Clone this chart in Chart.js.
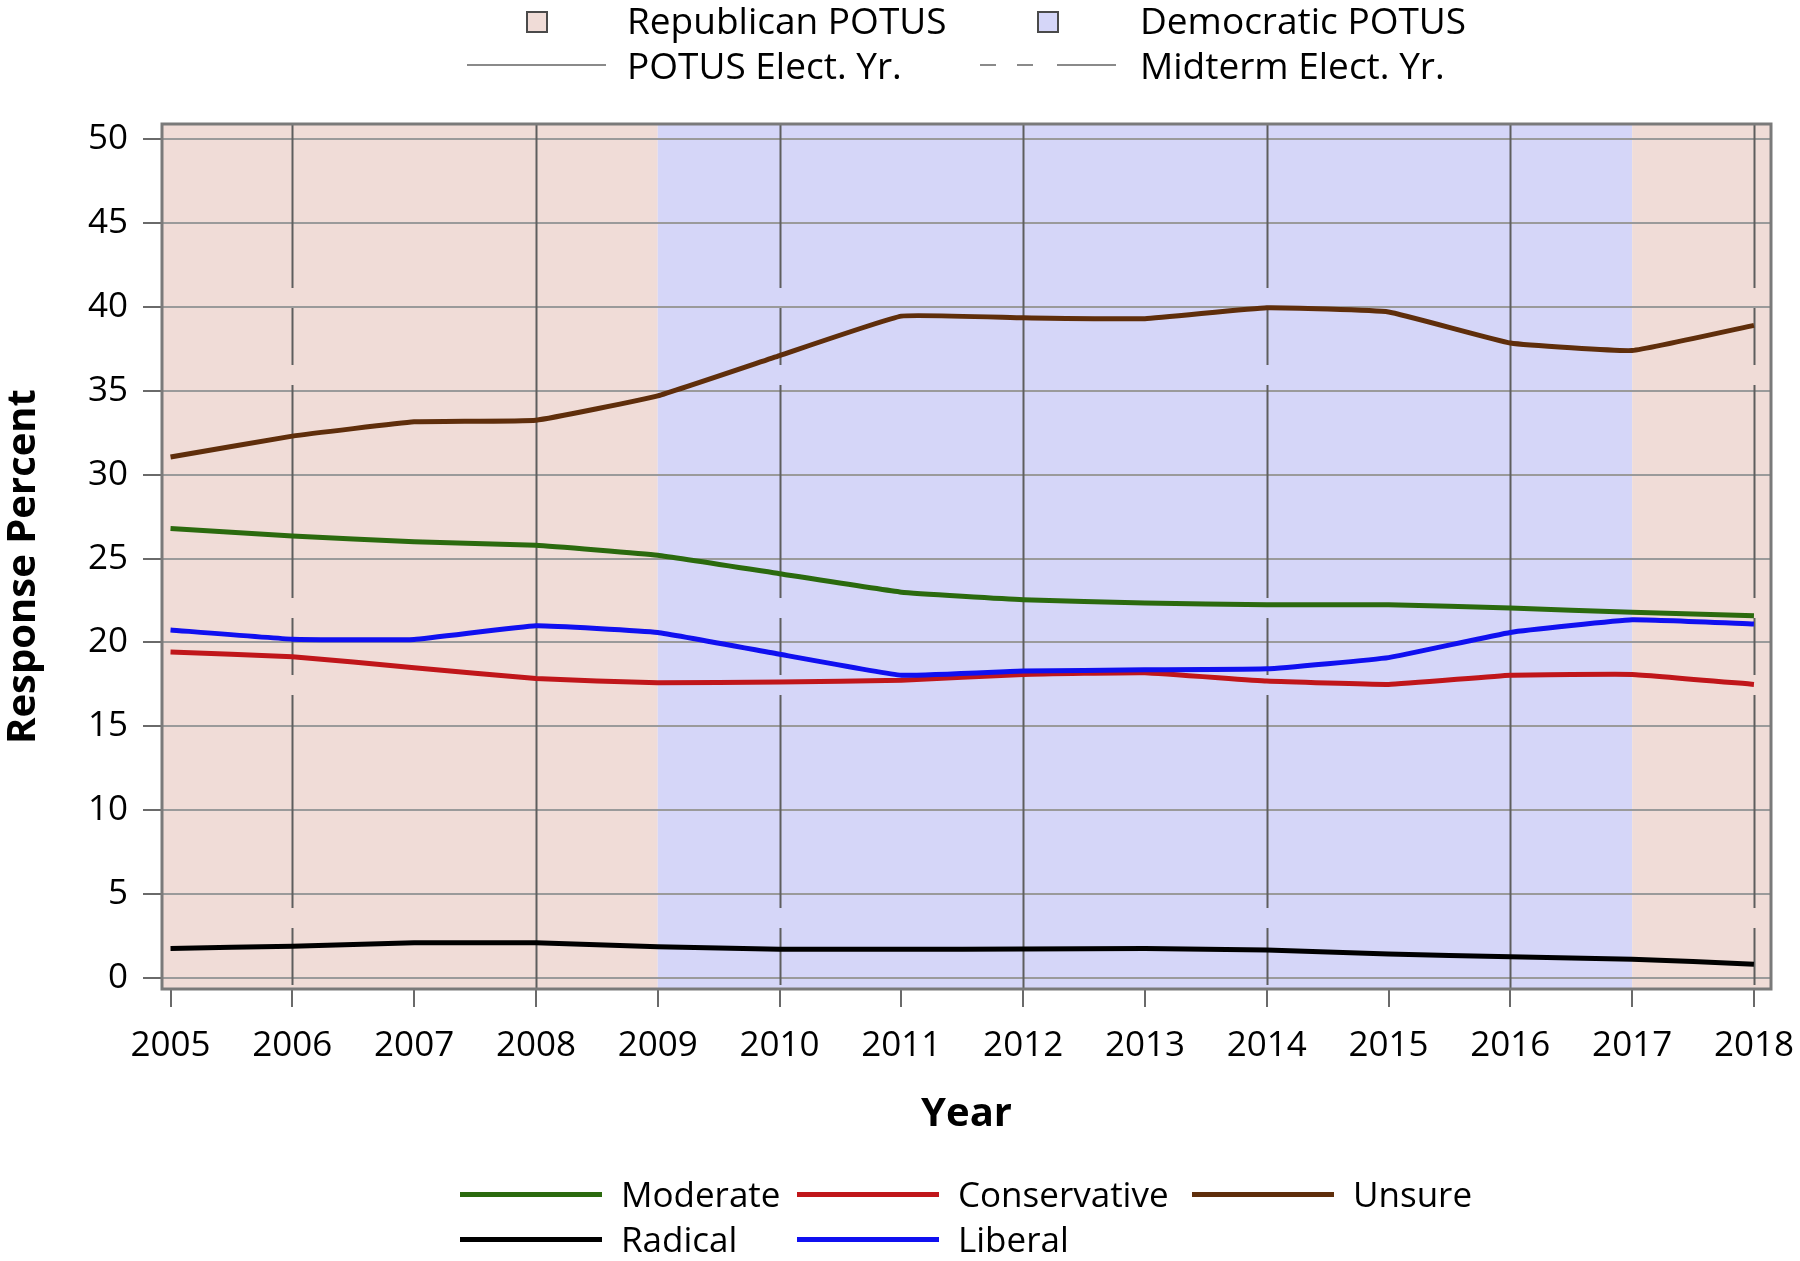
<!DOCTYPE html>
<html>
<head>
<meta charset="utf-8">
<script src="https://cdn.jsdelivr.net/npm/chart.js@4/dist/chart.umd.min.js"></script>
<style>
  body { margin: 0; background: #fff; }
  #wrap { position: relative; width: 1800px; height: 1261px; font-family: "Open Sans", sans-serif; color: #000; }
  canvas { position: absolute; left: 0; top: 0; }
  .lg { position: absolute; font-size: 35px; line-height: 40px; white-space: nowrap; }
  .lg.top { font-size: 37px; }
  .sq { position: absolute; width: 18px; height: 18px; border: 2px solid #4a4a4a; }
  .ln { position: absolute; height: 5px; }
  .gl { position: absolute; height: 2px; background: #8a8a8a; }
</style>
</head>
<body>
<div id="wrap">
  <canvas id="chart" width="1800" height="1261"></canvas>

  <!-- top legend -->
  <div class="sq" style="left:526px;top:11px;background:#f0dcd7"></div>
  <div class="lg top" style="left:627px;top:0px">Republican POTUS</div>
  <div class="sq" style="left:1037px;top:11px;background:#d5d6f8"></div>
  <div class="lg top" style="left:1140px;top:0px">Democratic POTUS</div>

  <div class="gl" style="left:467px;top:64px;width:139px"></div>
  <div class="lg top" style="left:627px;top:45px">POTUS Elect. Yr.</div>
  <div class="gl" style="left:980px;top:64px;width:16px"></div>
  <div class="gl" style="left:1017px;top:64px;width:16px"></div>
  <div class="gl" style="left:1057px;top:64px;width:59px"></div>
  <div class="lg top" style="left:1140px;top:45px">Midterm Elect. Yr.</div>

  <!-- bottom legend -->
  <div class="ln" style="left:460px;top:1192px;width:142px;background:#2b6a0e"></div>
  <div class="lg" style="left:621px;top:1174px">Moderate</div>
  <div class="ln" style="left:797px;top:1192px;width:142px;background:#c0161a"></div>
  <div class="lg" style="left:958px;top:1174px">Conservative</div>
  <div class="ln" style="left:1192px;top:1192px;width:142px;background:#5f2e0b"></div>
  <div class="lg" style="left:1353px;top:1174px">Unsure</div>
  <div class="ln" style="left:460px;top:1237px;width:142px;background:#000"></div>
  <div class="lg" style="left:621px;top:1219px">Radical</div>
  <div class="ln" style="left:797px;top:1237px;width:142px;background:#1010f0"></div>
  <div class="lg" style="left:958px;top:1219px">Liberal</div>
</div>

<script>
// survey years
const years = [2005, 2006, 2007, 2008, 2009, 2010, 2011, 2012, 2013, 2014, 2015, 2016, 2017, 2018];

// response percent per group
const moderate     = [26.8, 26.35, 26.0, 25.8, 25.2, 24.1, 23.0, 22.55, 22.35, 22.25, 22.25, 22.05, 21.8, 21.6];
const conservative = [19.43, 19.15, 18.5, 17.85, 17.6, 17.65, 17.75, 18.1, 18.2, 17.7, 17.5, 18.05, 18.1, 17.5];
const unsure       = [31.05, 32.3, 33.15, 33.25, 34.7, 37.1, 39.45, 39.35, 39.3, 39.95, 39.7, 37.85, 37.4, 38.9];
const radical      = [1.77, 1.9, 2.1, 2.1, 1.87, 1.72, 1.72, 1.73, 1.77, 1.67, 1.43, 1.27, 1.13, 0.83];
const liberal      = [20.75, 20.2, 20.18, 21.0, 20.6, 19.3, 18.05, 18.3, 18.37, 18.43, 19.1, 20.6, 21.35, 21.1];

// presidential terms (start years) and party
const termStarts = [2001, 2009, 2017, 2021];
const termParty = ['R', 'D', 'R'];

const potusYears = [2008, 2012, 2016];
const midtermYears = [2006, 2010, 2014, 2018];

const yTicks = [0, 5, 10, 15, 20, 25, 30, 35, 40, 45, 50];

const partyColor = { R: '#f0dcd7', D: '#d5d6f8' };

function pts(vals) {
  return years.map((yr, i) => ({ x: yr, y: vals[i] }));
}

// shading for presidential terms, drawn under grid
const termShading = {
  id: 'termShading',
  beforeDraw(chart) {
    const { ctx, chartArea: a, scales: { x } } = chart;
    ctx.save();
    for (let i = 0; i < termParty.length; i++) {
      let x0 = Math.max(x.getPixelForValue(termStarts[i]), a.left);
      let x1 = Math.min(x.getPixelForValue(termStarts[i + 1]), a.right);
      if (x1 <= x0) continue;
      ctx.fillStyle = partyColor[termParty[i]];
      ctx.fillRect(x0, a.top, x1 - x0, a.bottom - a.top);
    }
    ctx.restore();
  }
};

// election year reference lines + frame
const electionLines = {
  id: 'electionLines',
  beforeDatasetsDraw(chart) {
    const { ctx, chartArea: a, scales: { x } } = chart;
    ctx.save();
    ctx.strokeStyle = '#5e5e5e';
    ctx.lineWidth = 2;
    potusYears.forEach(yr => {
      const px = Math.round(x.getPixelForValue(yr)) + 0.5;
      ctx.beginPath();
      ctx.moveTo(px, a.top);
      ctx.lineTo(px, a.bottom);
      ctx.stroke();
    });
    ctx.setLineDash([213, 20, 57, 20]);
    ctx.lineDashOffset = 49;
    midtermYears.forEach(yr => {
      const px = Math.round(x.getPixelForValue(yr)) + 0.5;
      ctx.beginPath();
      ctx.moveTo(px, a.top);
      ctx.lineTo(px, a.bottom);
      ctx.stroke();
    });
    ctx.restore();
  },
  afterDatasetsDraw(chart) {
    const { ctx, chartArea: a } = chart;
    ctx.save();
    ctx.strokeStyle = '#7a7a7a';
    ctx.lineWidth = 3;
    ctx.strokeRect(a.left, a.top, a.right - a.left, a.bottom - a.top);
    ctx.restore();
  }
};

// y axis title sits a little below the plot's middle in the original
const yTitle = {
  id: 'yTitle',
  afterDraw(chart) {
    const { ctx, chartArea: a } = chart;
    ctx.save();
    ctx.translate(24, (a.top + a.bottom) / 2 + 10);
    ctx.rotate(-Math.PI / 2);
    ctx.font = 'bold 40px "Open Sans"';
    ctx.fillStyle = '#000';
    ctx.textAlign = 'center';
    ctx.textBaseline = 'middle';
    ctx.fillText('Response Percent', 0, 0);
    ctx.restore();
  }
};

const tickFont = { family: 'Open Sans', size: 35 };
const titleFont = { family: 'Open Sans', size: 40, weight: 'bold' };

new Chart(document.getElementById('chart'), {
  type: 'line',
  data: {
    datasets: [
      { label: 'Liberal', data: pts(liberal), borderColor: '#1010f0', order: 0 },
      { label: 'Radical', data: pts(radical), borderColor: '#000000', order: 1 },
      { label: 'Unsure', data: pts(unsure), borderColor: '#5f2e0b', order: 2 },
      { label: 'Conservative', data: pts(conservative), borderColor: '#c0161a', order: 3 },
      { label: 'Moderate', data: pts(moderate), borderColor: '#2b6a0e', order: 4 }
    ].map(d => Object.assign(d, {
      borderWidth: 5, pointRadius: 0, tension: 0.1, fill: false,
      borderJoinStyle: 'round', borderCapStyle: 'butt'
    }))
  },
  options: {
    responsive: false,
    animation: false,
    events: [],
    layout: { padding: { top: 124, right: 29, left: 0, bottom: 0 } },
    plugins: { legend: { display: false }, tooltip: { enabled: false } },
    scales: {
      x: {
        type: 'linear',
        min: 2004.93,
        max: 2018.14,
        afterBuildTicks: s => { s.ticks = years.map(v => ({ value: v })); },
        afterFit: s => { s.height = 272; s.paddingLeft = 0; s.paddingRight = 0; },
        ticks: { font: tickFont, color: '#000', padding: 18, maxRotation: 0, autoSkip: false, callback: v => String(v) },
        grid: { drawOnChartArea: false, drawTicks: true, tickLength: 18, tickColor: '#6a6a6a', lineWidth: 2 },
        border: { display: false },
        title: { display: true, text: 'Year', font: titleFont, color: '#000', padding: { top: 0, bottom: 122 } }
      },
      y: {
        min: -0.65,
        max: 50.9,
        afterBuildTicks: s => { s.ticks = yTicks.map(v => ({ value: v })); },
        afterFit: s => { s.width = 162; s.paddingTop = 0; s.paddingBottom = 0; },
        ticks: { font: tickFont, color: '#000', padding: 15 },
        grid: { color: '#9a9a9a', lineWidth: 2, tickLength: 19, tickColor: '#6a6a6a' },
        border: { display: false },
        title: { display: false }
      }
    }
  },
  plugins: [termShading, electionLines, yTitle]
});
</script>
</body>
</html>
